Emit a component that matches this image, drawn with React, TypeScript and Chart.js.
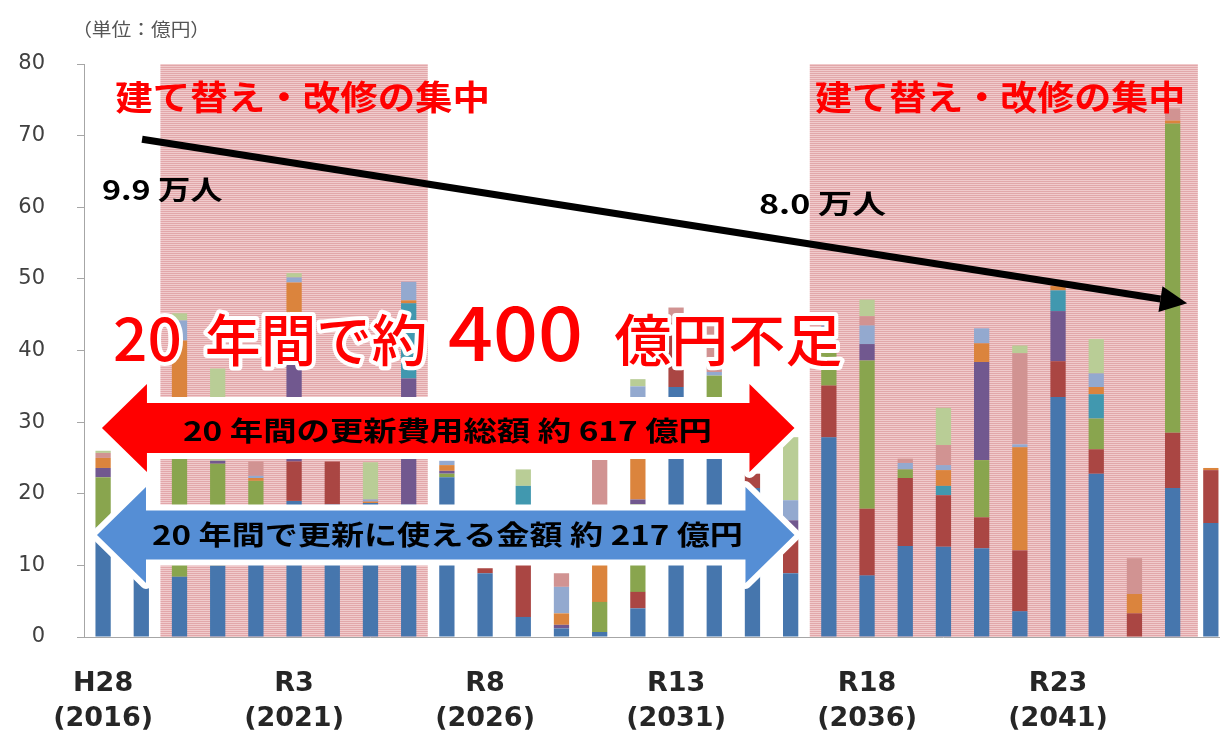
import React, { useEffect, useRef } from 'react';
import { Chart, registerables } from 'chart.js';

Chart.register(...registerables);

// ---- data ----
const categories = [
  '2016', '2017', '2018', '2019', '2020', '2021', '2022', '2023', '2024', '2025',
  '2026', '2027', '2028', '2029', '2030', '2031', '2032', '2033', '2034', '2035',
  '2036', '2037', '2038', '2039', '2040', '2041', '2042', '2043', '2044', '2045',
];
const tickYears = ['2016', '2021', '2026', '2031', '2036', '2041'];
const tickEras = ['H28', 'R3', 'R8', 'R13', 'R18', 'R23'];

const seriesNames = ['系列1', '系列2', '系列3', '系列4', '系列5', '系列6', '系列7', '系列8', '系列9'];
const s1 = [15.3, 8.2, 8.4, 10, 14, 19, 18.5, 18.7, 18.5, 22.3, 8.9, 2.8, 1.2, 0.7, 4.0, 34.9, 28, 20.8, 8.9, 27.9, 8.6, 12.7, 12.6, 12.4, 3.6, 33.5, 22.8, 0, 20.8, 15.9];
const s2 = [0, 0.4, 0, 0, 0, 5.5, 6, 0, 0, 0, 0.7, 12.7, 0, 0, 2.3, 9.7, 0, 2.0, 5.6, 7.2, 9.3, 9.5, 7.2, 4.3, 8.5, 5.0, 3.4, 3.3, 7.7, 7.4];
const s3 = [7.0, 0, 24.6, 14.2, 7.8, 0, 0, 0, 0, 0.5, 0, 0, 0, 4.2, 12.2, 0, 8.5, 0, 0, 5.4, 20.7, 1.2, 0, 8.0, 0, 0, 4.3, 0, 43.2, 0];
const s4 = [1.3, 0, 0, 0.4, 0, 15, 0, 0, 17.6, 0.4, 0, 0, 0.5, 0, 0.7, 0, 0, 0, 1.8, 1.0, 2.3, 0, 0, 13.7, 0, 7.0, 0, 0, 0, 0];
const s5 = [0, 0, 0, 0, 0, 0, 0, 0, 10.5, 0, 0, 5.6, 0, 0, 0, 0, 0, 0, 0, 0, 0, 0, 1.3, 0, 0, 2.9, 3.4, 0, 0, 0];
const s6 = [1.4, 0, 8.4, 0, 0.4, 10, 0, 0.2, 0.4, 0.8, 0, 0, 1.6, 9.1, 12.8, 0, 0, 0, 0, 0, 0, 0, 2.2, 2.6, 14.4, 0.6, 1.0, 2.7, 0.4, 0.3];
const s7 = [0, 0, 2.8, 0, 0.3, 0.7, 0, 0.3, 2.6, 0.6, 0, 0, 3.7, 0, 3.0, 0, 0.5, 0, 2.8, 2.0, 2.6, 0.9, 0.7, 2.1, 0.4, 0, 1.9, 0, 0, 0];
const s8 = [0.7, 0, 0, 0, 2.0, 0, 0, 0, 0, 0, 0, 0, 1.9, 10.7, 0, 1.4, 7.2, 0, 0, 0, 1.3, 0.6, 2.8, 0, 12.7, 0, 0, 5.0, 1.7, 0];
const s9 = [0.3, 0, 1.0, 12.9, 0, 0.6, 0, 5.2, 0, 0, 0, 2.3, 0, 0, 1.0, 0, 0.4, 0, 8.8, 0, 2.3, 0, 5.2, 0, 1.1, 0, 4.8, 0, 0, 0];
const seriesValues = [s1, s2, s3, s4, s5, s6, s7, s8, s9];
const seriesColors = ['#4676AD', '#AA4643', '#89A54E', '#71588F', '#4198AF', '#DB843D', '#93A9CF', '#D19392', '#B9CD96'];

// annotation anchors in data units: [category index, value]
const bands = [[1.5, 8.5], [18.5, 28.66]];
const trendStart = [1.02, 69.5];
const trendEnd = [28.38, 46.6];

export default function App() {
  const ref = useRef<HTMLCanvasElement | null>(null);

  useEffect(() => {
    if (!ref.current) return;

    // draws text stretched horizontally so it spans [left, right]
    const fitText = (
      ctx: CanvasRenderingContext2D, text: string, font: string, left: number, right: number, y: number,
      fill: string, baseline: CanvasTextBaseline = 'middle', stroke?: string, strokeW = 0,
    ) => {
      ctx.save();
      ctx.font = font;
      ctx.textAlign = 'left';
      ctx.textBaseline = baseline;
      const natural = ctx.measureText(text).width;
      const sx = (right - left) / natural;
      ctx.translate(left, y);
      ctx.scale(sx, 1);
      if (stroke) {
        ctx.strokeStyle = stroke;
        ctx.lineWidth = strokeW;
        ctx.lineJoin = 'round';
        ctx.strokeText(text, 0, 0);
      }
      ctx.fillStyle = fill;
      ctx.fillText(text, 0, 0);
      ctx.restore();
    };

    const doubleArrow = (
      ctx: CanvasRenderingContext2D, xl: number, xr: number, yc: number,
      sh: number, hh: number, hl: number, color: string,
    ) => {
      ctx.save();
      ctx.beginPath();
      ctx.moveTo(xl, yc);
      ctx.lineTo(xl + hl, yc - hh);
      ctx.lineTo(xl + hl, yc - sh);
      ctx.lineTo(xr - hl, yc - sh);
      ctx.lineTo(xr - hl, yc - hh);
      ctx.lineTo(xr, yc);
      ctx.lineTo(xr - hl, yc + hh);
      ctx.lineTo(xr - hl, yc + sh);
      ctx.lineTo(xl + hl, yc + sh);
      ctx.lineTo(xl + hl, yc + hh);
      ctx.closePath();
      ctx.strokeStyle = '#ffffff';
      ctx.lineWidth = 12;
      ctx.lineJoin = 'round';
      ctx.stroke();
      ctx.fillStyle = color;
      ctx.fill();
      ctx.restore();
    };

    const bandPlugin = {
      id: 'bands',
      beforeDatasetsDraw(chart: any) {
        const { ctx, scales: { x, y } } = chart;
        const pc = document.createElement('canvas');
        pc.width = 4; pc.height = 2;
        const p = pc.getContext('2d')!;
        p.fillStyle = '#F0CBCC'; p.fillRect(0, 0, 4, 1);
        p.fillStyle = '#E2A7AA'; p.fillRect(0, 1, 4, 1);
        const pat = ctx.createPattern(pc, 'repeat');
        ctx.save();
        ctx.fillStyle = pat;
        bands.forEach(([a, b]) => {
          const x0 = x.getPixelForValue(a);
          const x1 = x.getPixelForValue(b);
          const y0 = y.getPixelForValue(80);
          const y1 = y.getPixelForValue(0);
          ctx.fillRect(x0, y0, x1 - x0, y1 - y0);
        });
        ctx.restore();
      },
    };

    const overlayPlugin = {
      id: 'overlay',
      afterDatasetsDraw(chart: any) {
        const { ctx, scales: { x, y } } = chart;
        const X = (v: number) => x.getPixelForValue(v);
        const Y = (v: number) => y.getPixelForValue(v);
        const jp = '"Noto Sans CJK JP", "Noto Sans CJK SC", sans-serif';

        // trend arrow
        const x0 = X(trendStart[0]); const y0 = Y(trendStart[1]);
        const x1 = X(trendEnd[0]); const y1 = Y(trendEnd[1]);
        const ang = Math.atan2(y1 - y0, x1 - x0);
        const hl = 27; const hw = 13;
        const bx = x1 - hl * Math.cos(ang); const by = y1 - hl * Math.sin(ang);
        ctx.save();
        ctx.strokeStyle = '#000';
        ctx.lineWidth = 7;
        ctx.beginPath();
        ctx.moveTo(x0, y0);
        ctx.lineTo(bx, by);
        ctx.stroke();
        ctx.beginPath();
        ctx.moveTo(x1, y1);
        ctx.lineTo(bx + hw * Math.sin(ang), by - hw * Math.cos(ang));
        ctx.lineTo(bx - hw * Math.sin(ang), by + hw * Math.cos(ang));
        ctx.closePath();
        ctx.fillStyle = '#000';
        ctx.fill();
        ctx.restore();

        // double arrows
        doubleArrow(ctx, X(-0.03), X(18.1), Y(29.18), 25, 44, 45, '#FF0000');
        doubleArrow(ctx, X(-0.16), X(18.1), Y(14.24), 24.5, 48, 49, '#558ED5');

        // texts
        fitText(ctx, '20 年間の更新費用総額 約 617 億円', `bold 27px ${jp}`, X(2.09), X(15.94), Y(28.76), '#000');
        fitText(ctx, '20 年間で更新に使える金額 約 217 億円', `bold 27px ${jp}`, X(1.28), X(16.75), Y(14.24), '#000');

        fitText(ctx, '建て替え・改修の集中', `bold 34px ${jp}`, X(0.32), X(10.13), Y(75.4), '#FF0000');
        fitText(ctx, '建て替え・改修の集中', `bold 34px ${jp}`, X(18.64), X(28.33), Y(75.4), '#FF0000');

        fitText(ctx, '9.9 万人', `bold 27px ${jp}`, X(-0.03), X(3.13), Y(62.4), '#000');
        fitText(ctx, '8.0 万人', `bold 27px ${jp}`, X(17.17), X(20.5), Y(60.45), '#000');

        fitText(ctx, '（単位：億円）', `18px ${jp}`, X(-0.81), X(2.8), Y(84.9), '#555');

        const by2 = Y(38.5);
        fitText(ctx, '20', `500 60px ${jp}`, X(0.26), X(2.06), by2, '#FF0000', 'alphabetic', '#fff', 8);
        fitText(ctx, '年間で約', `500 56px ${jp}`, X(2.67), X(8.49), by2, '#FF0000', 'alphabetic', '#fff', 8);
        fitText(ctx, '400', `500 76px ${jp}`, X(9.03), X(12.56), by2, '#FF0000', 'alphabetic', '#fff', 8);
        fitText(ctx, '億円不足', `500 56px ${jp}`, X(13.38), X(19.35), by2, '#FF0000', 'alphabetic', '#fff', 8);
      },
    };

    const chart = new Chart(ref.current, {
      type: 'bar',
      data: {
        labels: categories,
        datasets: seriesValues.map((vals, i) => ({
          label: seriesNames[i],
          data: vals,
          backgroundColor: seriesColors[i],
          borderWidth: 0,
          categoryPercentage: 1,
          barPercentage: 0.4,
        })),
      },
      options: {
        responsive: false,
        devicePixelRatio: 1,
        animation: false,
        layout: { padding: { left: 0, right: 10, top: 64, bottom: 0 } },
        plugins: { legend: { display: false }, tooltip: { enabled: false } },
        scales: {
          x: {
            stacked: true,
            offset: true,
            grid: { display: true, drawOnChartArea: false, drawTicks: false },
            border: { display: true, color: '#a6a6a6', width: 1 },
            ticks: {
              autoSkip: false,
              maxRotation: 0,
              padding: 29,
              color: '#262626',
              font: { family: 'DejaVu Sans', weight: 'bold', size: 27, lineHeight: 1.3 },
              callback: (_v: any, i: number) => {
                const cat = categories[i];
                const k = tickYears.indexOf(cat);
                return k >= 0 ? [tickEras[k], '(' + cat + ')'] : '';
              },
            },
            afterFit: (s: any) => { s.height = 105; },
          },
          y: {
            stacked: true,
            min: 0,
            max: 80,
            ticks: { stepSize: 10, padding: 32, color: '#404040', font: { family: 'DejaVu Sans', size: 21 } },
            grid: { drawOnChartArea: false, drawTicks: true, tickLength: 7, color: '#a6a6a6' },
            border: { display: true, color: '#a6a6a6', width: 1 },
            afterFit: (s: any) => { s.width = 84; },
          },
        },
      },
      plugins: [bandPlugin, overlayPlugin],
    } as any);

    return () => { chart.destroy(); };
  }, []);

  return (
    <div style={{ position: 'fixed', left: 0, top: 0, width: 1220, height: 742, overflow: 'hidden', background: '#fff' }}>
      <canvas ref={ref} width={1240} height={742} style={{ display: 'block', width: 1240, height: 742 }} />
    </div>
  );
}
